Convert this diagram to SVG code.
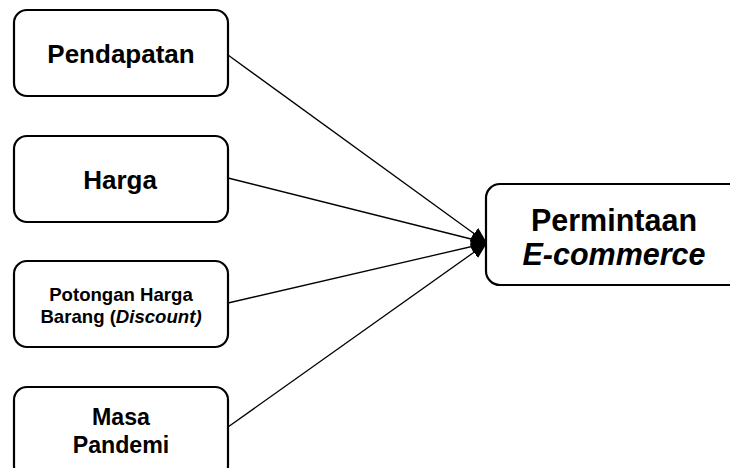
<svg xmlns="http://www.w3.org/2000/svg" width="730" height="468" viewBox="0 0 730 468">
<style>
.box{fill:#fff;stroke:#000;stroke-width:2.2}
.t{font-family:"Liberation Sans",Arial,sans-serif;font-weight:bold;fill:#000;text-anchor:middle}
.c{stroke:#000;stroke-width:1.3;fill:none}
</style>
<defs>
<marker id="ah" markerUnits="userSpaceOnUse" markerWidth="18" markerHeight="14" refX="16" refY="7" orient="auto">
<path d="M0,0 L16,7 L0,14 Z" fill="#000"/>
</marker>
</defs>
<rect width="730" height="468" fill="#fff"/>
<g id="connectors">
<line class="c" x1="228" y1="55" x2="487" y2="243" marker-end="url(#ah)"/>
<line class="c" x1="228" y1="178" x2="487" y2="243" marker-end="url(#ah)"/>
<line class="c" x1="228" y1="303" x2="487" y2="243" marker-end="url(#ah)"/>
<line class="c" x1="228" y1="427" x2="487" y2="243" marker-end="url(#ah)"/>
</g>
<g id="pendapatan">
<rect class="box" x="14" y="10" width="214" height="86" rx="13"/>
<text class="t" x="121" y="63" font-size="26">Pendapatan</text>
</g>
<g id="harga">
<rect class="box" x="14" y="136" width="214" height="86" rx="13"/>
<text class="t" x="120" y="189" font-size="26">Harga</text>
</g>
<g id="potongan">
<rect class="box" x="14" y="261" width="214" height="86" rx="13"/>
<text class="t" x="121" y="301" font-size="18.6">Potongan Harga</text>
<text class="t" x="121" y="323" font-size="18.6">Barang (<tspan font-style="italic">Discount)</tspan></text>
</g>
<g id="masa">
<rect class="box" x="14" y="387" width="214" height="92" rx="13"/>
<text class="t" x="121" y="425" font-size="23.2">Masa</text>
<text class="t" x="121" y="453" font-size="23.2">Pandemi</text>
</g>
<g id="permintaan">
<rect class="box" x="486" y="184" width="260" height="101" rx="14"/>
<text class="t" x="614" y="231" font-size="30.5">Permintaan</text>
<text class="t" x="614" y="265" font-size="30.5" font-style="italic">E-commerce</text>
</g>
</svg>
